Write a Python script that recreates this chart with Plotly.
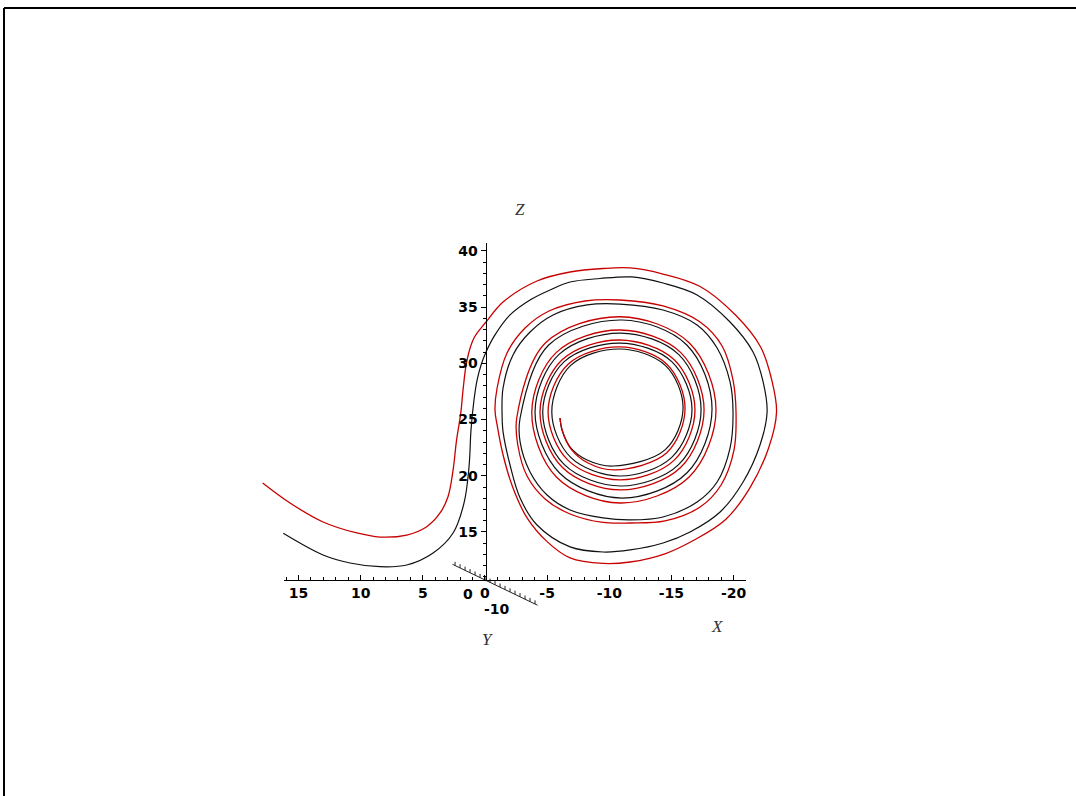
import plotly.graph_objects as go

# Two trajectories seen in the X–Z view (X runs right-to-left, Z upward).
black_x = [16.23, 13.03, 10.86, 8.45, 6.30, 4.18, 2.57, 1.69, 1.29, 1.13,
           0.89, 0.64, 0.32, -0.08, -0.80, -2.01, -3.62, -5.23, -6.84, -9.25,
           -11.83, -14.32, -17.06, -19.71, -21.56, -22.37, -22.69, -22.12,
           -20.76, -18.91,
           -16.49, -14.32, -11.67, -9.49, -6.84, -4.18, -2.82, -2.01, -1.45, -1.37,
           -1.45, -2.25, -3.62, -5.47, -8.21, -10.86, -14.32, -17.06, -18.67, -19.71,
           -19.95, -19.71, -18.67, -17.06, -14.32, -11.67, -9.49, -6.84, -4.99, -3.62,
           -2.82, -2.82,
           -5.12, -11.02, -16.23, -18.26, -16.23, -11.02, -5.99, -4.02,
           -5.95, -10.90, -15.57, -17.38, -15.57, -10.90, -6.38, -4.64,
           -6.37, -10.82, -15.02, -16.65, -15.02, -10.82, -6.89, -5.37,
           -6.89, -10.82, -14.50, -15.93, -14.50, -10.30, -8.21, -6.84, -6.19, -6.03]
black_z = [14.88, 12.95, 12.24, 11.91, 12.06, 13.13, 14.91, 17.58, 20.78, 24.07,
           26.74, 28.52, 29.86, 31.01, 32.53, 34.31, 35.64, 36.53, 37.24, 37.55,
           37.69, 37.15, 36.09, 33.68, 31.01, 28.35, 25.68, 22.74,
           19.45, 16.78,
           15.00, 14.02, 13.40, 13.22, 13.67, 15.62, 18.02, 20.96, 23.90, 25.41,
           27.81, 30.75, 32.79, 34.31, 35.20, 35.28, 34.75, 33.42, 31.37, 28.35,
           25.68, 22.47, 19.45, 17.67, 16.33, 16.07, 16.25, 16.96, 18.29, 20.34,
           23.01, 25.14,
           31.64, 33.86, 31.64, 25.94, 20.25, 18.02, 20.25, 25.68,
           30.80, 32.70, 30.80, 25.90, 20.99, 19.09, 20.99, 25.68,
           30.16, 31.81, 30.16, 25.90, 21.64, 19.98, 21.64, 25.68,
           29.82, 31.28, 29.82, 26.07, 22.33, 20.87, 21.41, 22.56, 24.07, 25.14]

red_x = [17.89, 15.69, 13.03, 10.32, 8.45, 6.30, 4.69, 3.62, 2.98, 2.57,
         2.29, 1.95, 1.77, 1.45, 0.89, -0.08, -1.45, -4.18, -6.84, -9.49,
         -11.67, -14.32, -17.30, -20.13, -22.18, -23.06, -23.45, -22.82,
         -21.33, -19.38,
         -16.75, -14.47, -11.67, -9.49, -6.84, -4.99, -3.38, -2.25, -1.45, -0.97,
         -0.80,
         -0.97, -1.77, -3.22, -5.15, -8.05, -10.86, -14.32, -17.30, -19.07, -19.95,
         -20.19, -20.03, -18.99, -17.30, -14.48, -11.67, -9.49, -6.84, -4.83, -3.38,
         -2.65, -2.55,
         -4.87, -10.86, -16.42, -18.58, -16.42, -10.86, -5.74, -3.76,
         -5.74, -10.86, -15.73, -17.62, -15.73, -10.86, -6.23, -4.42,
         -6.22, -10.82, -15.20, -16.89, -15.20, -10.82, -6.68, -5.07,
         -6.68, -10.82, -14.62, -16.09, -14.62, -10.46, -8.29, -6.92, -6.23, -6.03]
red_z = [19.36, 17.58, 15.89, 14.91, 14.55, 14.73, 15.47, 16.69, 18.14, 20.52,
         23.19, 25.59, 27.63, 30.30, 32.26, 33.68, 35.46, 37.33, 38.13, 38.44,
         38.49, 37.95, 36.84, 34.32, 31.44, 28.54, 25.68, 22.50,
         18.97, 16.14,
         14.24, 13.06, 12.33, 12.20, 12.69, 14.14, 16.25, 18.91, 21.85, 24.52,
         25.85,
         27.81, 30.93, 33.15, 34.66, 35.55, 35.64, 35.11, 33.68, 31.55, 28.52,
         25.68, 22.30, 19.18, 17.22, 15.98, 15.80, 15.85, 16.60, 17.94, 19.98,
         22.65, 25.14,
         31.83, 34.15, 31.83, 25.85, 19.89, 17.58, 19.89, 25.68,
         30.98, 32.97, 30.98, 25.85, 20.73, 18.74, 20.73, 25.68,
         30.34, 32.08, 30.34, 25.85, 21.37, 19.63, 21.37, 25.68,
         29.93, 31.46, 29.93, 25.99, 22.04, 20.52, 21.14, 22.38, 23.98, 25.14]

# Axis ticks
x_ticks = [15, 10, 5, 0, -5, -10, -15, -20]
x_tick_text = ["15", "10", "5", "0", "-5", "-10", "-15", "-20"]
x_minor = list(range(16, -22, -1))
z_ticks = [15, 20, 25, 30, 35, 40]
z_minor = list(range(11, 41))
y_span = [13, -21]
y_minor = list(range(12, -21, -2))
y_labels = [0, -10]
y_label_text = ["0", "-10"]

# Oblique Y axis: offset in (X, Z) per unit of Y, and the Z level of the floor
Y_DX, Y_DZ, Z_FLOOR = 0.201, 0.107, 10.73
TICK_DZ = 0.33
Y_LABEL_SHIFTS = [(-17, -14), (-13, -17)]

W, H = 1076, 796


def y_point(y):
    return Y_DX * y, Z_FLOOR + Y_DZ * y


fig = go.Figure()

fig.add_trace(go.Scatter(x=black_x, y=black_z, mode="lines",
                         line=dict(color="#111111", width=1.2, shape="spline", smoothing=1.0),
                         hoverinfo="skip"))
fig.add_trace(go.Scatter(x=red_x, y=red_z, mode="lines",
                         line=dict(color="#c80000", width=1.3, shape="spline", smoothing=1.0),
                         hoverinfo="skip"))

# Y axis drawn along its oblique direction, with small ticks
ax_x, ax_z = [], []
x0, z0 = y_point(y_span[0])
x1, z1 = y_point(y_span[1])
ax_x += [x0, x1, None]
ax_z += [z0, z1, None]
for yv in y_minor:
    px, pz = y_point(yv)
    ax_x += [px, px, None]
    ax_z += [pz, pz + TICK_DZ, None]
fig.add_trace(go.Scatter(x=ax_x, y=ax_z, mode="lines",
                         line=dict(color="#222222", width=1), hoverinfo="skip"))

# Anchor trace for the X/Z axis frame
fig.add_trace(go.Scatter(x=[None], y=[None], xaxis="x2", yaxis="y2",
                         mode="lines", hoverinfo="skip"))

tick_font = dict(family="DejaVu Sans", size=14, color="black", weight="bold")

annotations = []
for yv, txt, (sx, sy) in zip(y_labels, y_label_text, Y_LABEL_SHIFTS):
    px, pz = y_point(yv)
    annotations.append(dict(x=px, y=pz, xref="x", yref="y", text=txt,
                            showarrow=False, xshift=sx, yshift=sy,
                            xanchor="center", yanchor="middle", font=tick_font))

title_font = dict(family="Liberation Serif", size=17, color="#333333")
for label, px, py in [("Z", 520, 209), ("Y", 487, 639), ("X", 717, 626)]:
    annotations.append(dict(x=px / W, y=1 - py / H, xref="paper", yref="paper",
                            xanchor="center", yanchor="middle",
                            text="<i>" + label + "</i>", showarrow=False, font=title_font))

fig.update_layout(
    width=W, height=H,
    margin=dict(l=0, r=0, t=0, b=0),
    paper_bgcolor="white", plot_bgcolor="rgba(0,0,0,0)",
    showlegend=False,
    xaxis=dict(domain=[0, 1], range=[39.02, -47.54], visible=False),
    yaxis=dict(domain=[0, 1], range=[-8.49, 62.33], visible=False),
    xaxis2=dict(domain=[284 / W, 746 / W], range=[16.17, -21.0], anchor="y2",
                showline=True, linecolor="black", linewidth=1,
                showgrid=False, zeroline=False,
                tickmode="array", tickvals=x_ticks, ticktext=x_tick_text,
                ticks="inside", ticklen=5, tickcolor="black", tickwidth=1,
                tickfont=tick_font,
                minor=dict(tickmode="array", tickvals=x_minor, ticks="inside",
                           ticklen=3, tickcolor="black", showgrid=False)),
    yaxis2=dict(domain=[1 - 580 / H, 1 - 243 / H], range=[10.73, 40.7], anchor="free",
                position=485.5 / W, side="left",
                showline=True, linecolor="black", linewidth=1,
                showgrid=False, zeroline=False,
                tickmode="array", tickvals=z_ticks,
                ticks="outside", ticklen=5, tickcolor="black", tickwidth=1,
                tickfont=tick_font,
                minor=dict(tickmode="array", tickvals=z_minor, ticks="outside",
                           ticklen=3, tickcolor="black", showgrid=False)),
    annotations=annotations,
    shapes=[
        dict(type="line", xref="paper", yref="paper", x0=4 / W, x1=1,
             y0=1 - 8 / H, y1=1 - 8 / H, line=dict(color="black", width=2)),
        dict(type="line", xref="paper", yref="paper", x0=4 / W, x1=4 / W,
             y0=0, y1=1 - 8 / H, line=dict(color="black", width=2)),
    ],
)

fig.write_html("out.html", config={"displayModeBar": False})
